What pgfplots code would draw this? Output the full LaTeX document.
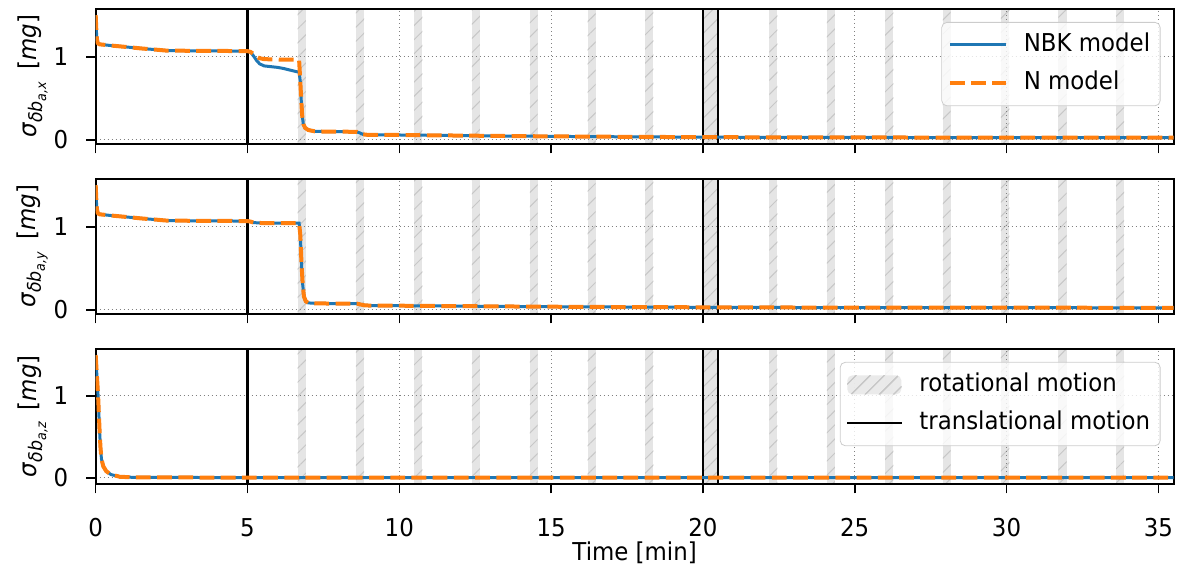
\documentclass[border=0pt]{standalone}
\usepackage{fontspec}
\setmainfont{DejaVu Sans}[FakeStretch=0.93]
\usepackage{pgfplots}
\usepackage{pgfplotstable}
\pgfplotsset{compat=1.18}
\usepgfplotslibrary{groupplots}
\usetikzlibrary{patterns.meta}

\definecolor{tabblue}{RGB}{31,119,180}
\definecolor{taborange}{RGB}{255,127,14}

% standard deviation of the accelerometer bias estimate, x axis
\pgfplotstableread{
t     nbk    n
0.00  1.500  1.500
0.02  1.330  1.330
0.04  1.210  1.210
0.07  1.165  1.165
0.12  1.150  1.150
0.50  1.135  1.135
1.00  1.118  1.118
1.50  1.100  1.100
2.00  1.085  1.085
2.30  1.075  1.075
3.00  1.072  1.072
4.00  1.070  1.070
5.00  1.068  1.068
5.10  1.055  1.058
5.20  1.010  1.035
5.30  0.955  1.000
5.40  0.915  0.982
5.55  0.890  0.972
5.80  0.880  0.968
6.00  0.872  0.967
6.20  0.858  0.966
6.40  0.840  0.965
6.60  0.822  0.964
6.70  0.815  0.963
6.74  0.700  0.700
6.77  0.480  0.480
6.80  0.300  0.300
6.84  0.190  0.190
6.90  0.145  0.145
7.00  0.120  0.120
7.20  0.105  0.105
7.60  0.100  0.100
8.00  0.100  0.100
8.60  0.098  0.098
8.70  0.085  0.085
8.80  0.068  0.068
8.95  0.062  0.062
10.0  0.060  0.060
12.0  0.053  0.053
14.0  0.046  0.046
16.0  0.041  0.041
18.0  0.037  0.037
20.0  0.034  0.034
22.0  0.032  0.032
26.0  0.030  0.030
30.0  0.029  0.029
35.5  0.027  0.027
}\biasx

% y axis
\pgfplotstableread{
t     nbk    n
0.00  1.500  1.500
0.02  1.330  1.330
0.04  1.210  1.210
0.07  1.165  1.165
0.12  1.150  1.150
0.50  1.135  1.135
1.00  1.118  1.118
1.50  1.100  1.100
2.00  1.085  1.085
2.30  1.075  1.075
3.00  1.072  1.072
4.00  1.070  1.070
5.00  1.068  1.068
5.10  1.062  1.062
5.20  1.050  1.050
5.40  1.045  1.045
6.00  1.044  1.044
6.70  1.043  1.043
6.74  0.900  0.900
6.78  0.550  0.550
6.82  0.300  0.300
6.86  0.160  0.160
6.92  0.105  0.105
7.00  0.085  0.085
7.30  0.078  0.078
8.00  0.077  0.077
8.60  0.076  0.076
8.70  0.068  0.068
8.85  0.056  0.056
9.00  0.053  0.053
10.0  0.051  0.051
12.0  0.046  0.046
14.0  0.041  0.041
16.0  0.037  0.037
18.0  0.034  0.034
20.0  0.032  0.032
22.0  0.030  0.030
26.0  0.028  0.028
30.0  0.027  0.027
35.5  0.026  0.026
}\biasy

% z axis
\pgfplotstableread{
t     nbk    n
0.00  1.500  1.500
0.04  1.250  1.250
0.08  1.000  1.000
0.105 0.780  0.780
0.13  0.560  0.560
0.16  0.360  0.360
0.19  0.230  0.230
0.25  0.140  0.140
0.35  0.080  0.080
0.50  0.040  0.040
0.80  0.012  0.012
1.20  0.006  0.006
2.00  0.004  0.004
5.00  0.003  0.003
10.0  0.002  0.002
20.0  0.002  0.002
35.5  0.002  0.002
}\biasz

\pgfplotsset{
  rotband/.style={draw=none, fill=black!10, on layer=axis background,
    postaction={pattern={Lines[angle=45,distance=5pt,line width=0.5pt]}, pattern color=black!22}},
  transline/.style={black, line width=1.1pt,
    legend image code/.code={\draw[##1] (0pt,0pt) -- (27.5pt,0pt);}},
  nbkline/.style={tabblue, line width=1.5pt,
    legend image code/.code={\draw[##1] (0pt,0pt) -- (28pt,0pt);}},
  nline/.style={taborange, line width=2pt, dash pattern=on 7.4pt off 3.2pt,
    legend image code/.code={\draw[##1] (0pt,0pt) -- (28pt,0pt);}},
  mylegend/.style={legend style={at={(1,1)}, anchor=north east,
    xshift=-6.5pt, yshift=-6.5pt, draw=black!20, rounded corners=2.5pt,
    fill=white, fill opacity=0.8, draw opacity=1, text opacity=1,
    inner xsep=3pt, inner ysep=3pt, row sep=2.7pt,
    nodes={inner xsep=2pt, inner ysep=2pt, text height=9.5pt, text depth=3pt},
    /tikz/every odd column/.append style={column sep=6pt}},
    legend cell align=left},
  every y tick label/.append style={anchor=east, inner sep=0pt, xshift=-8.85pt},
}

% first rotation interval, then the remaining ones
\newcommand\firstband[1]{\addplot[rotband,#1] coordinates {(6.65,-1) (6.92,-1) (6.92,2) (6.65,2)} -- cycle;}
\newcommand\restbands{%
  \addplot[rotband,forget plot] coordinates {(8.57,-1) (8.84,-1) (8.84,2) (8.57,2)} -- cycle;
  \addplot[rotband,forget plot] coordinates {(10.49,-1) (10.76,-1) (10.76,2) (10.49,2)} -- cycle;
  \addplot[rotband,forget plot] coordinates {(12.39,-1) (12.65,-1) (12.65,2) (12.39,2)} -- cycle;
  \addplot[rotband,forget plot] coordinates {(14.30,-1) (14.56,-1) (14.56,2) (14.30,2)} -- cycle;
  \addplot[rotband,forget plot] coordinates {(16.20,-1) (16.47,-1) (16.47,2) (16.20,2)} -- cycle;
  \addplot[rotband,forget plot] coordinates {(18.10,-1) (18.37,-1) (18.37,2) (18.10,2)} -- cycle;
  \addplot[rotband,forget plot] coordinates {(20.00,-1) (20.50,-1) (20.50,2) (20.00,2)} -- cycle;
  \addplot[rotband,forget plot] coordinates {(22.19,-1) (22.45,-1) (22.45,2) (22.19,2)} -- cycle;
  \addplot[rotband,forget plot] coordinates {(24.08,-1) (24.35,-1) (24.35,2) (24.08,2)} -- cycle;
  \addplot[rotband,forget plot] coordinates {(26.00,-1) (26.27,-1) (26.27,2) (26.00,2)} -- cycle;
  \addplot[rotband,forget plot] coordinates {(27.90,-1) (28.16,-1) (28.16,2) (27.90,2)} -- cycle;
  \addplot[rotband,forget plot] coordinates {(29.81,-1) (30.09,-1) (30.09,2) (29.81,2)} -- cycle;
  \addplot[rotband,forget plot] coordinates {(31.71,-1) (31.98,-1) (31.98,2) (31.71,2)} -- cycle;
  \addplot[rotband,forget plot] coordinates {(33.61,-1) (33.87,-1) (33.87,2) (33.61,2)} -- cycle;
}
\newcommand\translines[1]{%
  \addplot[transline,#1] coordinates {(5,-1) (5,2)};
  \addplot[transline,forget plot] coordinates {(20,-1) (20,2)};
  \addplot[transline,forget plot] coordinates {(20.5,-1) (20.5,2)};
}
\newcommand\sig[1]{\textit{σ}\raisebox{-2.8pt}{\fontsize{9.4pt}{10pt}\selectfont\textit{δb}\raisebox{-2pt}{\fontsize{6.8pt}{7pt}\selectfont\textit{a,#1}}}\hspace{6pt}[\textit{mg}]}

\begin{document}
\fontsize{12.3pt}{14.5pt}\selectfont
\begin{tikzpicture}
\begin{groupplot}[
  group style={group size=1 by 3, vertical sep=17.5pt, xticklabels at=edge bottom},
  set layers, clip mode=individual,
  scale only axis, width=539pt, height=67.5pt,
  xmin=0, xmax=35.5, xtick={0,5,...,35}, ytick={0,1},
  /pgf/number format/assume math mode=true,
  grid=major, major grid style={gray, line width=0.5pt, dash pattern=on 0.6pt off 1.4pt},
  axis line style={line width=1pt},
  tick pos=left, tick align=outside, major tick length=4.75pt,
  tick style={black, line width=0.8pt},
  ylabel style={at={([xshift=-23.85pt]axis description cs:0,0.5)}, anchor=south, inner sep=0pt},
]
\nextgroupplot[ymin=-0.048, ymax=1.574, ylabel={\sig{x}}, mylegend]
\coordinate (TL) at (rel axis cs:0,1);
\firstband{forget plot}
\restbands
\translines{forget plot}
\addplot[nbkline] table[x=t, y=nbk] {\biasx};
\addlegendentry{NBK model}
\addplot[nline] table[x=t, y=n] {\biasx};
\addlegendentry{N model}

\nextgroupplot[ymin=-0.048, ymax=1.574, ylabel={\sig{y}}]
\firstband{forget plot}
\restbands
\translines{forget plot}
\addplot[nbkline] table[x=t, y=nbk] {\biasy};
\addplot[nline] table[x=t, y=n] {\biasy};

\nextgroupplot[ymin=-0.075, ymax=1.575, ylabel={\sig{z}}, mylegend,
  % digits set with their baseline 21pt under the spine
  xticklabel={\raisebox{-21pt}[0pt][0pt]{\pgfmathprintnumber{\tick}}},
  xticklabel style={anchor=north, inner sep=0pt},
  xlabel={Time [min]},
  xlabel style={at={(axis description cs:0.5,0)}, anchor=base, yshift=-38.3pt, inner sep=0pt}]
\coordinate (BR) at (rel axis cs:1,0);
\firstband{legend image code/.code={%
  \fill[black!10] (0pt,-4.75pt) rectangle (27pt,4.75pt);
  \fill[pattern={Lines[angle=45,distance=5pt,line width=0.5pt]}, pattern color=black!22] (0pt,-4.75pt) rectangle (27pt,4.75pt);}}
\addlegendentry{rotational motion}
\restbands
\translines{}
\addlegendentry{translational motion}
\addplot[nbkline, forget plot] table[x=t, y=nbk] {\biasz};
\addplot[nline, forget plot] table[x=t, y=n] {\biasz};
\end{groupplot}
\pgfresetboundingbox
\path ([xshift=-47.85pt, yshift=4.5pt]TL) rectangle ([xshift=9.25pt, yshift=-41.5pt]BR);
\end{tikzpicture}
\end{document}
